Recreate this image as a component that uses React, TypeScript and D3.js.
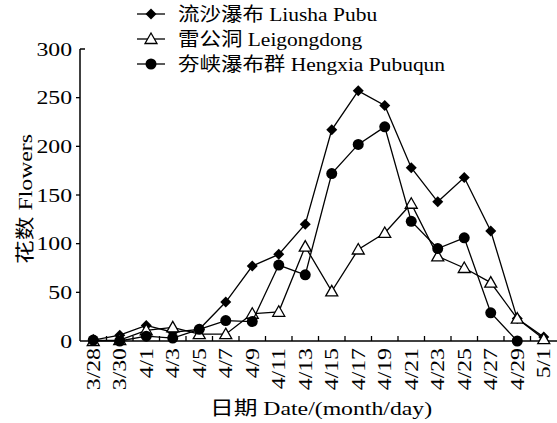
import React from "react";
import * as d3 from "d3";

const dates = ["3/28","3/30","4/1","4/3","4/5","4/7","4/9","4/11","4/13","4/15","4/17","4/19","4/21","4/23","4/25","4/27","4/29","5/1"];
const liusha: (number | null)[] = [1,6,16,9,12,40,77,89,120,217,257,242,178,143,168,113,23,4];
const leigong: (number | null)[] = [0,1,11,14,7,7,28,30,97,51,94,111,141,87,75,60,23,2];
const hengxia: (number | null)[] = [1,0,5,3,12,21,20,78,68,172,202,220,123,95,106,29,0,null];
const yTicks = [0,50,100,150,200,250,300];
const seriesNames = ["流沙瀑布 Liusha Pubu","雷公洞 Leigongdong","夯峡瀑布群 Hengxia Pubuqun"];

const W = 557, H = 423;
const serif = "'Liberation Serif','Times New Roman','Noto Sans CJK SC',serif";
const SX = 1.25;
const FS = 19;

function SText({ x, y, rotate = 0, anchor = "start", dy = "0", sx = SX, children }: any) {
  return (
    <text transform={`translate(${x},${y}) rotate(${rotate}) scale(${sx},1)`} textAnchor={anchor} dy={dy} fontSize={FS}>
      {children}
    </text>
  );
}

function Marker({ kind, x, y }: { kind: string; x: number; y: number }) {
  if (kind === "diamond") {
    const s = 5.5;
    return <path d={`M${x},${y - s}L${x + s},${y}L${x},${y + s}L${x - s},${y}Z`} fill="#000" />;
  }
  if (kind === "triangle") {
    const s = 6;
    return <path d={`M${x},${y - s}L${x + s},${y + s * 0.75}L${x - s},${y + s * 0.75}Z`} fill="#fff" stroke="#000" strokeWidth={1.3} />;
  }
  return <circle cx={x} cy={y} r={5.5} fill="#000" />;
}

export default function App() {
  const x = d3.scaleBand<string>().domain(dates).range([80, 557]).padding(0);
  const bw = x.bandwidth();
  const cx = (d: string) => (x(d) as number) + bw / 2;
  const y = d3.scaleLinear().domain([0, 300]).range([341, 49]);

  const series = [
    { name: seriesNames[0], vals: liusha, kind: "diamond" },
    { name: seriesNames[1], vals: leigong, kind: "triangle" },
    { name: seriesNames[2], vals: hengxia, kind: "circle" },
  ];
  const line = d3.line<[string, number | null]>()
    .defined((d) => d[1] !== null)
    .x((d) => cx(d[0]))
    .y((d) => y(d[1] as number));

  const legendY = [14, 39, 64];

  return (
    <svg width={W} height={H} style={{ position: "absolute", left: 0, top: 0, background: "#fff" }} fontFamily={serif}>
      <rect width={W} height={H} fill="#fff" />
      {/* axes */}
      <line x1={80} y1={y(300)} x2={80} y2={341} stroke="#000" strokeWidth={1.5} />
      <line x1={80} y1={341} x2={557} y2={341} stroke="#000" strokeWidth={1.5} />
      <line x1={80} y1={y(300)} x2={85} y2={y(300)} stroke="#000" strokeWidth={1.5} />
      {yTicks.map((t) => (
        <g key={t}>
          {t !== 300 && t !== 0 && <line x1={76} y1={y(t)} x2={80} y2={y(t)} stroke="#000" strokeWidth={1.3} />}
          <SText x={72} y={y(t)} anchor="end" dy="0.35em">{t}</SText>
        </g>
      ))}
      {dates.slice(1).map((d) => (
        <line key={"t" + d} x1={x(d) as number} x2={x(d) as number} y1={341} y2={336} stroke="#000" strokeWidth={1.3} />
      ))}
      {dates.map((d) => (
        <SText key={"l" + d} x={cx(d) + 6.5} y={348} rotate={-90} anchor="end">{d}</SText>
      ))}
      <SText x={32} y={199} rotate={-90} anchor="middle">花数 Flowers</SText>
      <SText x={321} y={415} anchor="middle">日期 Date/(month/day)</SText>

      {/* series */}
      {series.map((s) => (
        <g key={s.name}>
          <path d={line(dates.map((d, i) => [d, s.vals[i]]) as [string, number | null][]) || ""} fill="none" stroke="#000" strokeWidth={1.3} />
          {dates.map((d, i) => s.vals[i] === null ? null : <Marker key={d} kind={s.kind} x={cx(d)} y={y(s.vals[i] as number)} />)}
        </g>
      ))}

      {/* legend */}
      {series.map((s, i) => (
        <g key={"lg" + i}>
          <line x1={137} x2={165} y1={legendY[i]} y2={legendY[i]} stroke="#000" strokeWidth={1.3} />
          <Marker kind={s.kind} x={151} y={legendY[i]} />
          <SText x={178} y={legendY[i]} dy="0.35em" sx={1.13}>{s.name}</SText>
        </g>
      ))}
    </svg>
  );
}
